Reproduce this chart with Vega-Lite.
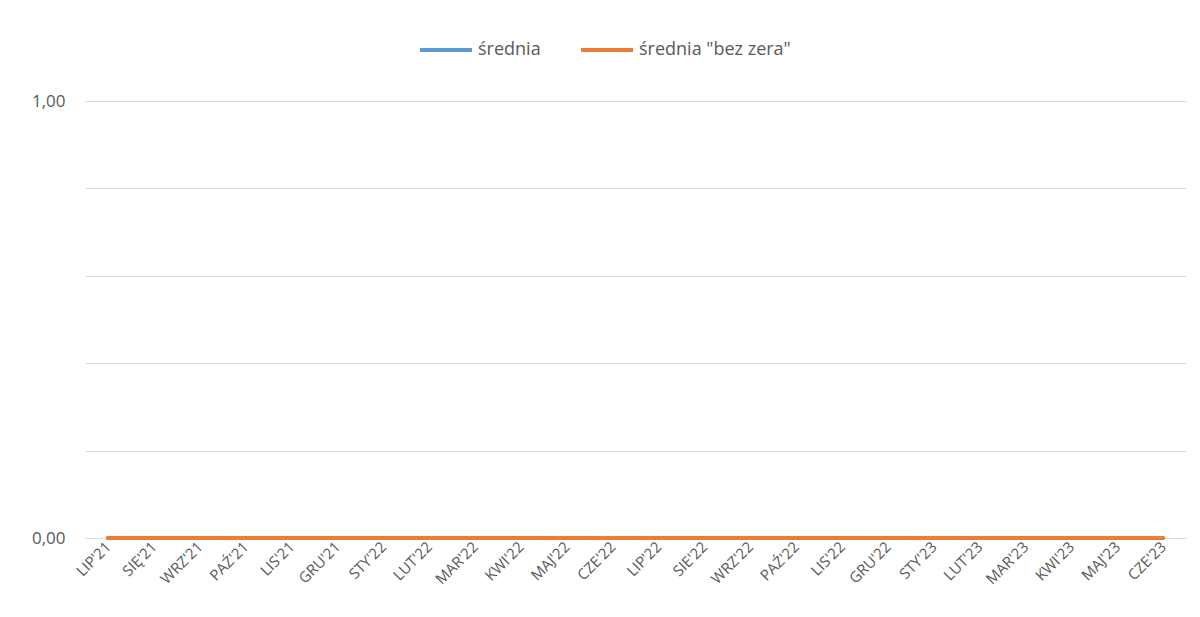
{
  "$schema": "https://vega.github.io/schema/vega-lite/v6.json",
  "width": 1101,
  "height": 437,
  "autosize": {"type": "none"},
  "padding": {"left": 85, "top": 101, "right": 14, "bottom": 79},
  "background": "white",
  "config": {
    "view": {"stroke": null},
    "font": "Open Sans"
  },
  "data": {
    "values": [
      {"m": "LIP'21", "i": 1, "s": "średnia", "v": 0},
      {"m": "SIĘ'21", "i": 2, "s": "średnia", "v": 0},
      {"m": "WRZ'21", "i": 3, "s": "średnia", "v": 0},
      {"m": "PAŹ'21", "i": 4, "s": "średnia", "v": 0},
      {"m": "LIS'21", "i": 5, "s": "średnia", "v": 0},
      {"m": "GRU'21", "i": 6, "s": "średnia", "v": 0},
      {"m": "STY'22", "i": 7, "s": "średnia", "v": 0},
      {"m": "LUT'22", "i": 8, "s": "średnia", "v": 0},
      {"m": "MAR'22", "i": 9, "s": "średnia", "v": 0},
      {"m": "KWI'22", "i": 10, "s": "średnia", "v": 0},
      {"m": "MAJ'22", "i": 11, "s": "średnia", "v": 0},
      {"m": "CZE'22", "i": 12, "s": "średnia", "v": 0},
      {"m": "LIP'22", "i": 13, "s": "średnia", "v": 0},
      {"m": "SIE'22", "i": 14, "s": "średnia", "v": 0},
      {"m": "WRZ'22", "i": 15, "s": "średnia", "v": 0},
      {"m": "PAŹ'22", "i": 16, "s": "średnia", "v": 0},
      {"m": "LIS'22", "i": 17, "s": "średnia", "v": 0},
      {"m": "GRU'22", "i": 18, "s": "średnia", "v": 0},
      {"m": "STY'23", "i": 19, "s": "średnia", "v": 0},
      {"m": "LUT'23", "i": 20, "s": "średnia", "v": 0},
      {"m": "MAR'23", "i": 21, "s": "średnia", "v": 0},
      {"m": "KWI'23", "i": 22, "s": "średnia", "v": 0},
      {"m": "MAJ'23", "i": 23, "s": "średnia", "v": 0},
      {"m": "CZE'23", "i": 24, "s": "średnia", "v": 0},
      {"m": "LIP'21", "i": 1, "s": "średnia \"bez zera\"", "v": 0},
      {"m": "SIĘ'21", "i": 2, "s": "średnia \"bez zera\"", "v": 0},
      {"m": "WRZ'21", "i": 3, "s": "średnia \"bez zera\"", "v": 0},
      {"m": "PAŹ'21", "i": 4, "s": "średnia \"bez zera\"", "v": 0},
      {"m": "LIS'21", "i": 5, "s": "średnia \"bez zera\"", "v": 0},
      {"m": "GRU'21", "i": 6, "s": "średnia \"bez zera\"", "v": 0},
      {"m": "STY'22", "i": 7, "s": "średnia \"bez zera\"", "v": 0},
      {"m": "LUT'22", "i": 8, "s": "średnia \"bez zera\"", "v": 0},
      {"m": "MAR'22", "i": 9, "s": "średnia \"bez zera\"", "v": 0},
      {"m": "KWI'22", "i": 10, "s": "średnia \"bez zera\"", "v": 0},
      {"m": "MAJ'22", "i": 11, "s": "średnia \"bez zera\"", "v": 0},
      {"m": "CZE'22", "i": 12, "s": "średnia \"bez zera\"", "v": 0},
      {"m": "LIP'22", "i": 13, "s": "średnia \"bez zera\"", "v": 0},
      {"m": "SIE'22", "i": 14, "s": "średnia \"bez zera\"", "v": 0},
      {"m": "WRZ'22", "i": 15, "s": "średnia \"bez zera\"", "v": 0},
      {"m": "PAŹ'22", "i": 16, "s": "średnia \"bez zera\"", "v": 0},
      {"m": "LIS'22", "i": 17, "s": "średnia \"bez zera\"", "v": 0},
      {"m": "GRU'22", "i": 18, "s": "średnia \"bez zera\"", "v": 0},
      {"m": "STY'23", "i": 19, "s": "średnia \"bez zera\"", "v": 0},
      {"m": "LUT'23", "i": 20, "s": "średnia \"bez zera\"", "v": 0},
      {"m": "MAR'23", "i": 21, "s": "średnia \"bez zera\"", "v": 0},
      {"m": "KWI'23", "i": 22, "s": "średnia \"bez zera\"", "v": 0},
      {"m": "MAJ'23", "i": 23, "s": "średnia \"bez zera\"", "v": 0},
      {"m": "CZE'23", "i": 24, "s": "średnia \"bez zera\"", "v": 0}
    ]
  },
  "mark": {"type": "line", "strokeWidth": 4, "strokeCap": "round", "strokeJoin": "round"},
  "encoding": {
    "x": {
      "field": "m",
      "type": "nominal",
      "sort": {"field": "i"},
      "scale": {"paddingInner": 0, "paddingOuter": 0.5},
      "axis": {
        "title": null,
        "labelAngle": -45,
        "labelAlign": "right",
        "labelBaseline": "middle",
        "labelPadding": 6,
        "labelFontSize": 15,
        "labelColor": "#595959",
        "labelFont": "Open Sans",
        "ticks": false,
        "domain": true,
        "domainColor": "#D9D9D9",
        "domainWidth": 1,
        "grid": false
      }
    },
    "y": {
      "field": "v",
      "type": "quantitative",
      "scale": {"domain": [0, 1], "nice": false},
      "axis": {
        "title": null,
        "values": [0, 0.2, 0.4, 0.6, 0.8, 1],
        "labelExpr": "datum.value == 0 || datum.value == 1 ? replace(format(datum.value, '.2f'), '.', ',') : ''",
        "labelFontSize": 17,
        "labelColor": "#595959",
        "labelFont": "Open Sans",
        "labelPadding": 20,
        "ticks": false,
        "domain": false,
        "grid": true,
        "gridColor": "#D9D9D9",
        "gridWidth": 1
      }
    },
    "color": {
      "field": "s",
      "type": "nominal",
      "scale": {"domain": ["średnia", "średnia \"bez zera\""], "range": ["#5B9BD5", "#ED7D31"]},
      "legend": {
        "title": null,
        "orient": "none",
        "direction": "horizontal",
        "legendX": 333,
        "legendY": -79,
        "symbolType": "stroke",
        "symbolSize": 2700,
        "symbolStrokeWidth": 4,
        "labelFontSize": 18,
        "labelColor": "#595959",
        "labelFont": "Open Sans",
        "labelOffset": 4,
        "columnPadding": 32
      }
    },
    "order": {"field": "s"}
  }
}
